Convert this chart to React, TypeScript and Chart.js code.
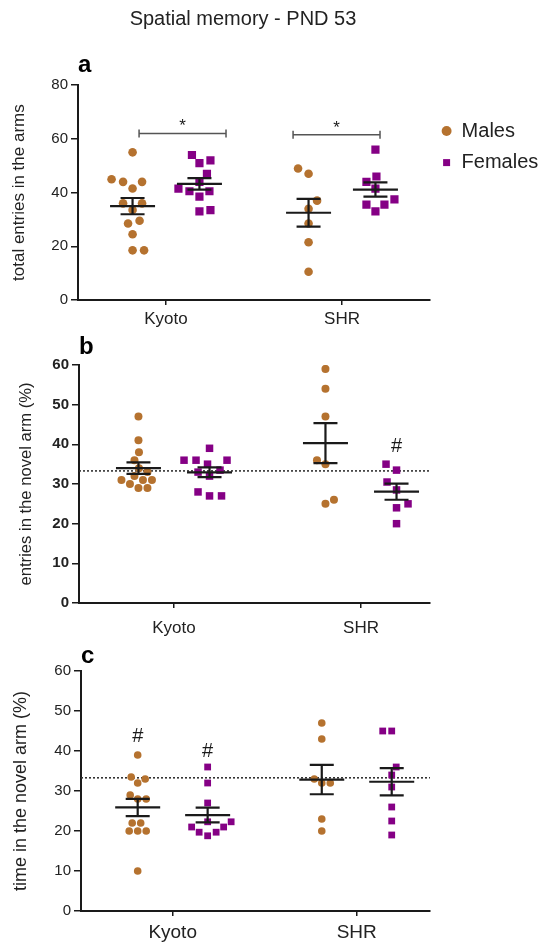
import React, { useEffect, useRef } from 'react';
import { Chart, registerables } from 'chart.js';

Chart.register(...registerables);

const FONT = '"Liberation Sans", Arial, Helvetica, sans-serif';
Chart.defaults.font.family = FONT;

const BROWN = '#B5722F';
const PURPLE = '#850085';
const INK = '#1a1a1a';

// ---------- data ----------
const mainTitle = 'Spatial memory - PND 53';
const categories = ['Kyoto', 'SHR'];
const seriesNames = ['Males', 'Females'];

// panel a: total entries in the arms
const aKyotoMales = [55, 45, 44, 44, 41.5, 36, 36, 33.5, 29.5, 28.5, 24.5, 18.5, 18.5];
const aKyotoFemales = [54, 52, 51, 47, 44, 41.5, 40.5, 40.5, 38.5, 33.5, 33];
const aShrMales = [49, 47, 37, 34, 28.5, 21.5, 10.5];
const aShrFemales = [56, 46, 44, 41.5, 37.5, 35.5, 35.5, 33];

// panel b: entries in the novel arm (%)
const bKyotoMales = [47, 41, 38, 36, 34, 33, 32, 31, 31, 31, 30, 29, 29];
const bKyotoFemales = [39, 36, 36, 36, 35, 33.5, 33, 32, 28, 27, 27];
const bShrMales = [59, 54, 47, 36, 35, 26, 25];
const bShrFemales = [35, 33.5, 30.5, 28.5, 25, 24, 20];

// panel c: time in the novel arm (%)
const cKyotoMales = [39, 33.5, 33, 32, 29, 28, 28, 22, 22, 20, 20, 20, 10];
const cKyotoFemales = [36, 32, 27, 22.3, 22.3, 21, 21, 19.7, 19.7, 18.8];
const cShrMales = [47, 43, 33, 32, 32, 23, 20];
const cShrFemales = [45, 45, 36, 34, 31, 26, 22.5, 19];

const chanceLevel = 33.3;

// significance annotations
const aBrackets = [
  { x0: 0.847, x1: 1.341, y: 62, text: '*' },
  { x0: 1.722, x1: 2.216, y: 61.5, text: '*' },
];
const bMarks = [{ cat: 1, sex: 1, y: 39.5, text: '#' }];
const cMarks = [
  { cat: 0, sex: 0, y: 43.6, text: '#' },
  { cat: 0, sex: 1, y: 40, text: '#' },
];

const SEX_OFFSET = [-0.19, 0.19];

// ---------- helpers ----------
function stats(vals: number[]) {
  const n = vals.length;
  const mean = vals.reduce((s, v) => s + v, 0) / n;
  const sd = Math.sqrt(vals.reduce((s, v) => s + (v - mean) ** 2, 0) / (n - 1));
  return { mean, sem: sd / Math.sqrt(n) };
}

function swarm(values: number[], cx: number, pxX: number, pxY: number, d: number) {
  const order = values.map((_, i) => i).sort((a, b) => values[a] - values[b]);
  const placed: { px: number; py: number }[] = [];
  const out: { x: number; y: number }[] = new Array(values.length);
  for (const i of order) {
    const py = values[i] * pxY;
    let chosen = 0;
    const free = (c: number) => placed.every((p) => (p.px - c) ** 2 + (p.py - py) ** 2 >= d * d - 0.01);
    const bal = placed.reduce((s, p) => s + p.px, 0);
    for (let m = 0; m < 300; m += 0.5) {
      const cands = m === 0 ? [0] : bal > 0 ? [-m, m] : [m, -m];
      const f = cands.find(free);
      if (f !== undefined) { chosen = f; break; }
    }
    placed.push({ px: chosen, py });
    out[i] = { x: cx + chosen / pxX, y: values[i] };
  }
  return out;
}

type Panel = {
  top: number; height: number;
  plotLeft: number; plotRight: number; plotTop: number; plotBottom: number;
  xMin: number; xMax: number; yMax: number; yStep: number;
  yTitle: string; yTitleSize: number; yTitleCenter: number;
  tickBold: boolean; xLabelSize: number; xLabelPad: number;
  letter: string; letterTop: number;
  showTitle: boolean; legend: boolean; refLine: boolean;
  males: number[][]; females: number[][];
  circleR: number; squareR: number; diam: number[];
  brackets: { x0: number; x1: number; y: number; text: string }[];
  marks: { cat: number; sex: number; y: number; text: string }[];
};

const W = 547;
const LETTER_SIZE = 24;
const TITLE_SHIFT = 61; // extends the full-width title box to the left so it is centred like the original

const panels: Panel[] = [
  {
    top: 0, height: 335, plotLeft: 78, plotRight: 430, plotTop: 85.2, plotBottom: 300,
    xMin: 0.5, xMax: 2.5, yMax: 80, yStep: 20,
    yTitle: 'total entries in the arms', yTitleSize: 17, yTitleCenter: 19,
    tickBold: false, xLabelSize: 17, xLabelPad: 4,
    letter: 'a', letterTop: 53, showTitle: true, legend: true, refLine: false,
    males: [aKyotoMales, aShrMales], females: [aKyotoFemales, aShrFemales],
    circleR: 4.3, squareR: 5.8, diam: [11.5, 11], brackets: aBrackets, marks: [],
  },
  {
    top: 335, height: 305, plotLeft: 79, plotRight: 430, plotTop: 365, plotBottom: 603,
    xMin: 0.492, xMax: 2.369, yMax: 60, yStep: 10,
    yTitle: 'entries in the novel arm (%)', yTitleSize: 16.6, yTitleCenter: 26,
    tickBold: true, xLabelSize: 17, xLabelPad: 10,
    letter: 'b', letterTop: 335, showTitle: false, legend: false, refLine: true,
    males: [bKyotoMales, bShrMales], females: [bKyotoFemales, bShrFemales],
    circleR: 4, squareR: 5.3, diam: [9, 12], brackets: [], marks: bMarks,
  },
  {
    top: 640, height: 305, plotLeft: 81, plotRight: 430, plotTop: 671, plotBottom: 911,
    xMin: 0.502, xMax: 2.398, yMax: 60, yStep: 10,
    yTitle: 'time in the novel arm (%)', yTitleSize: 18, yTitleCenter: 21,
    tickBold: false, xLabelSize: 19, xLabelPad: 5.6,
    letter: 'c', letterTop: 644, showTitle: false, legend: false, refLine: true,
    males: [cKyotoMales, cShrMales], females: [cKyotoFemales, cShrFemales],
    circleR: 3.8, squareR: 4.8, diam: [8.5, 9], brackets: [], marks: cMarks,
  },
];

function PanelChart({ p }: { p: Panel }) {
  const ref = useRef<HTMLCanvasElement | null>(null);
  useEffect(() => {
    if (!ref.current) return;
    const pxX = (p.plotRight - p.plotLeft) / (p.xMax - p.xMin);
    const pxY = (p.plotBottom - p.plotTop) / p.yMax;
    const sexGroups = [p.males, p.females];
    const pointsFor = (sex: number) =>
      sexGroups[sex].flatMap((vals, ci) => swarm(vals, ci + 1 + SEX_OFFSET[sex], pxX, pxY, p.diam[sex]));

    const groups = sexGroups.flatMap((byCat, sex) =>
      byCat.map((vals, ci) => ({ x: ci + 1 + SEX_OFFSET[sex], ...stats(vals) }))
    );

    const overlay = {
      id: 'overlay',
      afterDatasetsDraw(chart: any) {
        const { ctx } = chart;
        const xs = chart.scales.x;
        const ys = chart.scales.y;
        ctx.save();
        ctx.strokeStyle = INK;
        ctx.lineWidth = 2.2;
        for (const g of groups) {
          const cx = xs.getPixelForValue(g.x);
          const my = ys.getPixelForValue(g.mean);
          const hi = ys.getPixelForValue(g.mean + g.sem);
          const lo = ys.getPixelForValue(g.mean - g.sem);
          ctx.beginPath();
          ctx.moveTo(cx - 22.5, my); ctx.lineTo(cx + 22.5, my);
          ctx.moveTo(cx, hi); ctx.lineTo(cx, lo);
          ctx.moveTo(cx - 12, hi); ctx.lineTo(cx + 12, hi);
          ctx.moveTo(cx - 12, lo); ctx.lineTo(cx + 12, lo);
          ctx.stroke();
        }
        ctx.strokeStyle = '#555';
        ctx.lineWidth = 1.5;
        ctx.fillStyle = INK;
        ctx.textAlign = 'center';
        ctx.textBaseline = 'middle';
        for (const b of p.brackets) {
          const x0 = xs.getPixelForValue(b.x0);
          const x1 = xs.getPixelForValue(b.x1);
          const y = ys.getPixelForValue(b.y);
          ctx.beginPath();
          ctx.moveTo(x0, y); ctx.lineTo(x1, y);
          ctx.moveTo(x0, y - 4); ctx.lineTo(x0, y + 4);
          ctx.moveTo(x1, y - 4); ctx.lineTo(x1, y + 4);
          ctx.stroke();
          ctx.font = `17px ${FONT}`;
          ctx.fillText(b.text, (x0 + x1) / 2, y - 7);
        }
        for (const m of p.marks) {
          ctx.font = `20px ${FONT}`;
          ctx.fillText(m.text, xs.getPixelForValue(m.cat + 1 + SEX_OFFSET[m.sex]), ys.getPixelForValue(m.y));
        }
        ctx.restore();
      },
    };

    const datasets: any[] = [
      {
        label: seriesNames[0], data: pointsFor(0), pointStyle: 'circle',
        backgroundColor: BROWN, borderColor: BROWN, borderWidth: 0, pointRadius: p.circleR,
      },
      {
        label: seriesNames[1], data: pointsFor(1), pointStyle: 'rect',
        backgroundColor: PURPLE, borderColor: PURPLE, borderWidth: 0, pointRadius: p.squareR,
      },
    ];
    if (p.refLine) {
      datasets.push({
        type: 'line', label: 'chance', data: [{ x: p.xMin, y: chanceLevel }, { x: p.xMax, y: chanceLevel }],
        borderColor: '#333', borderWidth: 1.6, borderDash: [2, 2], pointRadius: 0, showLine: true, order: 3,
      });
    }

    const shift = p.showTitle ? TITLE_SHIFT : 0;
    const legendW = p.legend ? W - p.plotRight : 0;
    const letterBottom = p.plotTop - p.letterTop - LETTER_SIZE;
    const titleCfg = p.showTitle
      ? { display: true, text: mainTitle, fullSize: true, color: '#222', font: { size: 20, weight: 'normal', lineHeight: 1.2 }, padding: { top: 7, bottom: p.letterTop - 7 - 24 } }
      : { display: true, text: p.letter, fullSize: false, align: 'start', color: '#000', font: { size: LETTER_SIZE, weight: 'bold', lineHeight: 1 }, padding: { top: p.letterTop - p.top, bottom: letterBottom } };
    const subtitleCfg = p.showTitle
      ? { display: true, text: p.letter, fullSize: false, align: 'start', color: '#000', font: { size: LETTER_SIZE, weight: 'bold', lineHeight: 1 }, padding: { top: 0, bottom: letterBottom } }
      : { display: false };
    const yTitleLine = p.yTitleSize * 1.2;

    const chart = new Chart(ref.current, {
      type: 'scatter',
      data: { datasets },
      plugins: [overlay],
      options: {
        responsive: false,
        animation: false,
        events: [],
        layout: { padding: { left: -shift, top: 0, bottom: 0, right: W - p.plotRight - legendW } },
        plugins: {
          tooltip: { enabled: false },
          title: titleCfg as any,
          subtitle: subtitleCfg as any,
          legend: {
            display: p.legend,
            position: 'right',
            align: 'start',
            maxWidth: legendW,
            title: { display: true, text: ' ', font: { size: 10, lineHeight: 1 }, padding: { top: 99.4, bottom: 0 } },
            labels: {
              usePointStyle: true, boxWidth: 10, boxHeight: 7, padding: 11.6,
              color: '#222', font: { size: 20 },
              filter: (item: any) => seriesNames.includes(item.text),
            },
          } as any,
        },
        scales: {
          x: {
            type: 'linear', min: p.xMin, max: p.xMax,
            afterFit: (s: any) => { s.height = p.top + p.height - p.plotBottom; },
            afterBuildTicks: (s: any) => { s.ticks = categories.map((_, i) => ({ value: i + 1 })); },
            ticks: {
              callback: (v: any) => categories[Math.round(Number(v)) - 1] ?? '',
              color: '#222', font: { size: p.xLabelSize }, padding: p.xLabelPad, maxRotation: 0,
            },
            grid: { drawOnChartArea: false, drawTicks: true, tickLength: 5, color: INK, lineWidth: 1.5 },
            border: { display: true, color: INK, width: 2 },
          },
          y: {
            type: 'linear', min: 0, max: p.yMax,
            afterFit: (s: any) => { s.width = p.plotLeft + shift; },
            ticks: { stepSize: p.yStep, color: '#222', padding: 3, font: { size: 15, weight: p.tickBold ? 'bold' : 'normal' } },
            grid: { drawOnChartArea: false, drawTicks: true, tickLength: 7, color: INK, lineWidth: 1.5 },
            border: { display: true, color: INK, width: 2 },
            title: {
              display: true, text: p.yTitle, color: '#222',
              font: { size: p.yTitleSize, lineHeight: 1.2 },
              padding: { top: p.yTitleCenter + shift - yTitleLine / 2, bottom: 0 },
            },
          },
        },
      } as any,
    });
    return () => chart.destroy();
  }, [p]);
  return (
    <canvas
      ref={ref}
      width={W}
      height={p.height}
      style={{ position: 'absolute', left: 0, top: p.top, width: W, height: p.height }}
    />
  );
}

export default function App() {
  return (
    <div style={{ position: 'absolute', left: 0, top: 0, width: W, height: 945, background: '#fff' }}>
      {panels.map((p) => (
        <PanelChart key={p.letter} p={p} />
      ))}
    </div>
  );
}
